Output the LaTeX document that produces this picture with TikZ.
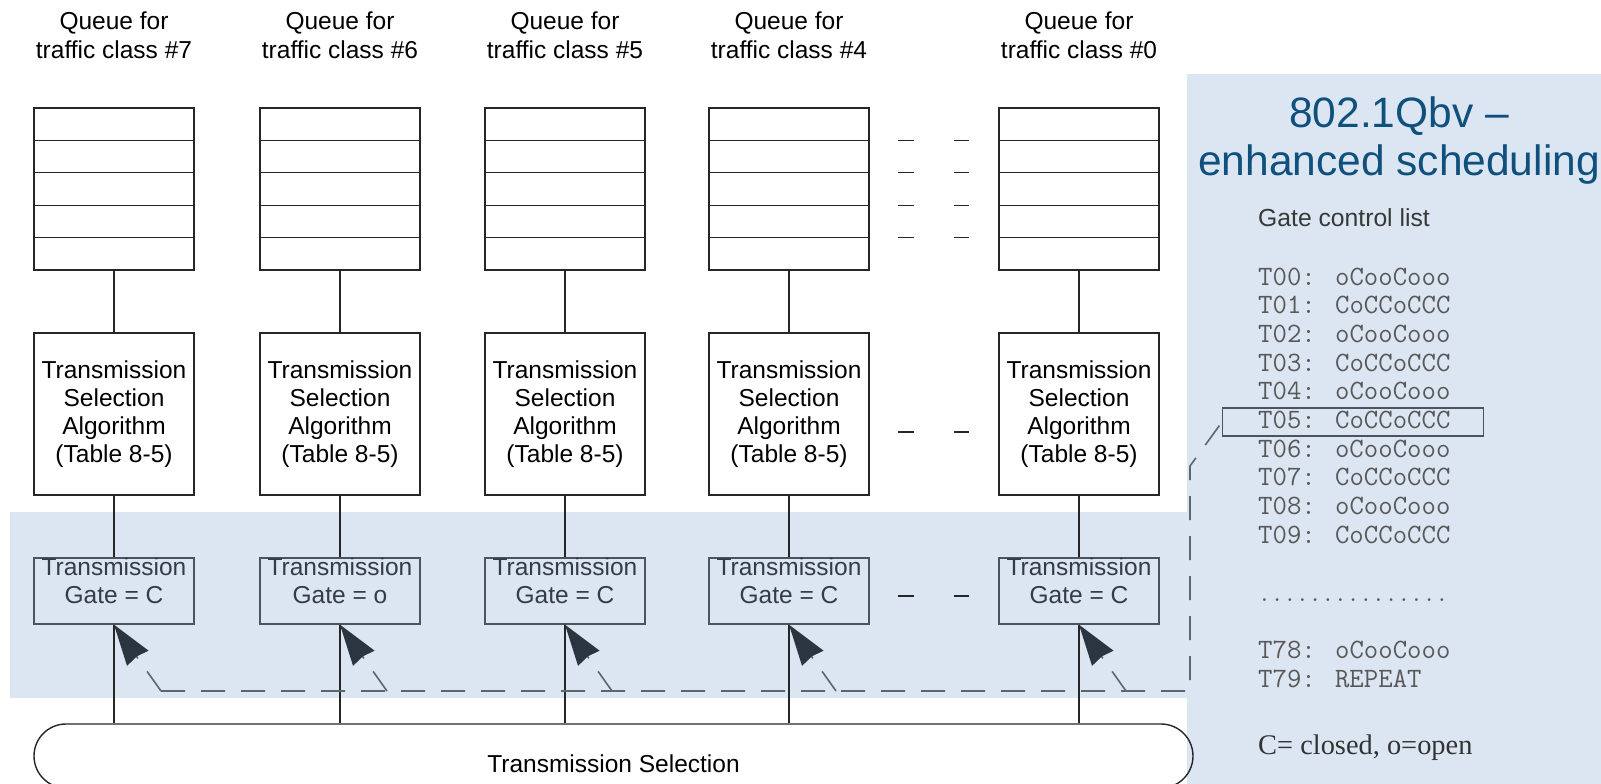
\documentclass[tikz,border=0pt]{standalone}
\usepackage{fontspec}
\setmainfont{Liberation Sans}
\newfontfamily\timesface{Liberation Serif}
\usetikzlibrary{arrows.meta, positioning, calc}
\definecolor{band_blue}{RGB}{220, 230, 242}
\definecolor{title_blue}{RGB}{16, 80, 124}
\definecolor{gate_gray}{RGB}{75, 84, 94}
\definecolor{gate_text}{RGB}{52, 60, 70}
\definecolor{ctrl_gray}{RGB}{92, 102, 112}
\definecolor{tip_dark}{RGB}{43, 53, 64}
\definecolor{list_gray}{RGB}{88, 88, 88}
\newcommand\pxfont[2]{\fontsize{#1}{#2}\selectfont}

\begin{document}
\begin{tikzpicture}[
    x=1pt, y=-1pt,
    box/.style={
        rectangle,
        draw=#1,
        line width=1.4pt,
        minimum width=160pt,
        inner sep=0pt
    },
    box/.default=black!85,
    queue/.style={box, minimum height=162pt},
    algo/.style={box, minimum height=162pt, align=center, font=\pxfont{24.5}{28}},
    gate/.style={box=gate_gray, minimum height=66pt},
    gatetext/.style={align=center, font=\pxfont{24.5}{28}, text=gate_text, yshift=10pt},
    link/.style={draw=black!85, line width=1.3pt},
    ctrl/.style={draw=ctrl_gray, line width=1.6pt, dash pattern=on 24pt off 16pt},
    gatearrow/.style={-{Stealth[length=41pt, width=26pt, inset=2pt, color=tip_dark]}},
    listline/.style={anchor=base west, inner sep=0pt, font=\ttfamily\pxfont{28}{32}, text=list_gray}
]

\useasboundingbox (0,0) rectangle (1601,784);
\clip (0,0) rectangle (1601,784);

% Highlighted areas
\fill[band_blue] (10,512) rectangle (1187,698);
\fill[band_blue] (1187,74) rectangle (1601,784);

% Transmission selection at the bottom
\node[draw=black!85, line width=1.4pt, rounded corners=32pt,
      minimum width=1159pt, minimum height=64pt,
      label={[font=\pxfont{24.5}{28}, yshift=-8pt]center:Transmission Selection}]
      (sel) at (613.5,756) {};

% One column per traffic class
\foreach \x/\n/\g in {114/7/C, 340/6/o, 565/5/C, 789/4/C, 1079/0/C} {
    \node[font=\pxfont{24.5}{29.5}, align=center] (label\n) at (\x,35.5) {Queue for\\traffic class \#\n};
    \node[queue] (queue\n) at (\x,189) {};
    \foreach \r in {1,...,4}
        \draw[link] ({\x-80},{108+32.4*\r}) -- ({\x+80},{108+32.4*\r});
    \node[algo] (algo\n) at (\x,414) {Transmission\\Selection\\Algorithm\\(Table 8-5)};
    \node[gate, label={[gatetext]center:{Transmission\\Gate = \g}}] (gate\n) at (\x,591) {};
    \coordinate (tail\n) at ({\x+47},691);

    \draw[link] (queue\n.south) -- (algo\n.north);
    \draw[link] (algo\n.south) -- (gate\n.north);
    \draw[link] (gate\n.south) -- (gate\n.south |- sel.north);
}

% Dashes for the classes left out
\foreach \y in {140.4,172.8,205.2,237.6,432,596} {
    \draw[link] (898,\y) -- (914,\y);
    \draw[link] (954,\y) -- (969,\y);
}

% Gate control list
\node[anchor=base, font=\pxfont{42.5}{48}, text=title_blue] (title_a) at (1399,127) {802.1Qbv \textendash};
\node[anchor=base, font=\pxfont{42.5}{48}, text=title_blue] (title_b) at (1399,175) {enhanced scheduling};
\node[anchor=base west, inner sep=0pt, font=\pxfont{24.7}{28}, text=black!78] (gcl) at (1258,226) {Gate control list};
\foreach \i in {0,...,9} {
    \pgfmathsetmacro{\by}{285+28.7*\i}
    \ifodd\i \def\pat{CoCCoCCC}\else \def\pat{oCooCooo}\fi
    \node[listline] (t0\i) at (1258,\by) {T0\i: \pat};
}
\node[draw=gate_gray, line width=1.3pt, minimum width=261pt, minimum height=28pt, anchor=west] (t05box) at (1222,422) {};
\node[listline, font=\ttfamily\pxfont{24.6}{28}] (dots) at (1258,601) {...............};
\node[listline] (t78) at (1258,658) {T78: oCooCooo};
\node[listline] (t79) at (1258,687) {T79: REPEAT};
\node[anchor=base west, inner sep=0pt, font=\timesface\pxfont{28.4}{32}, text=black!80] (legend) at (1258,754) {C= closed, o=open};

% Control signal from the list to the gates
\coordinate (corner) at (1190,691);
\coordinate (bend) at (1190,466);
\draw[ctrl] (tail7) -- (corner) -- (bend) -- (t05box.west);
\foreach \n in {7,6,5,4,0}
    \draw[ctrl, gatearrow] (tail\n) -- (gate\n.south);

\end{tikzpicture}
\end{document}
